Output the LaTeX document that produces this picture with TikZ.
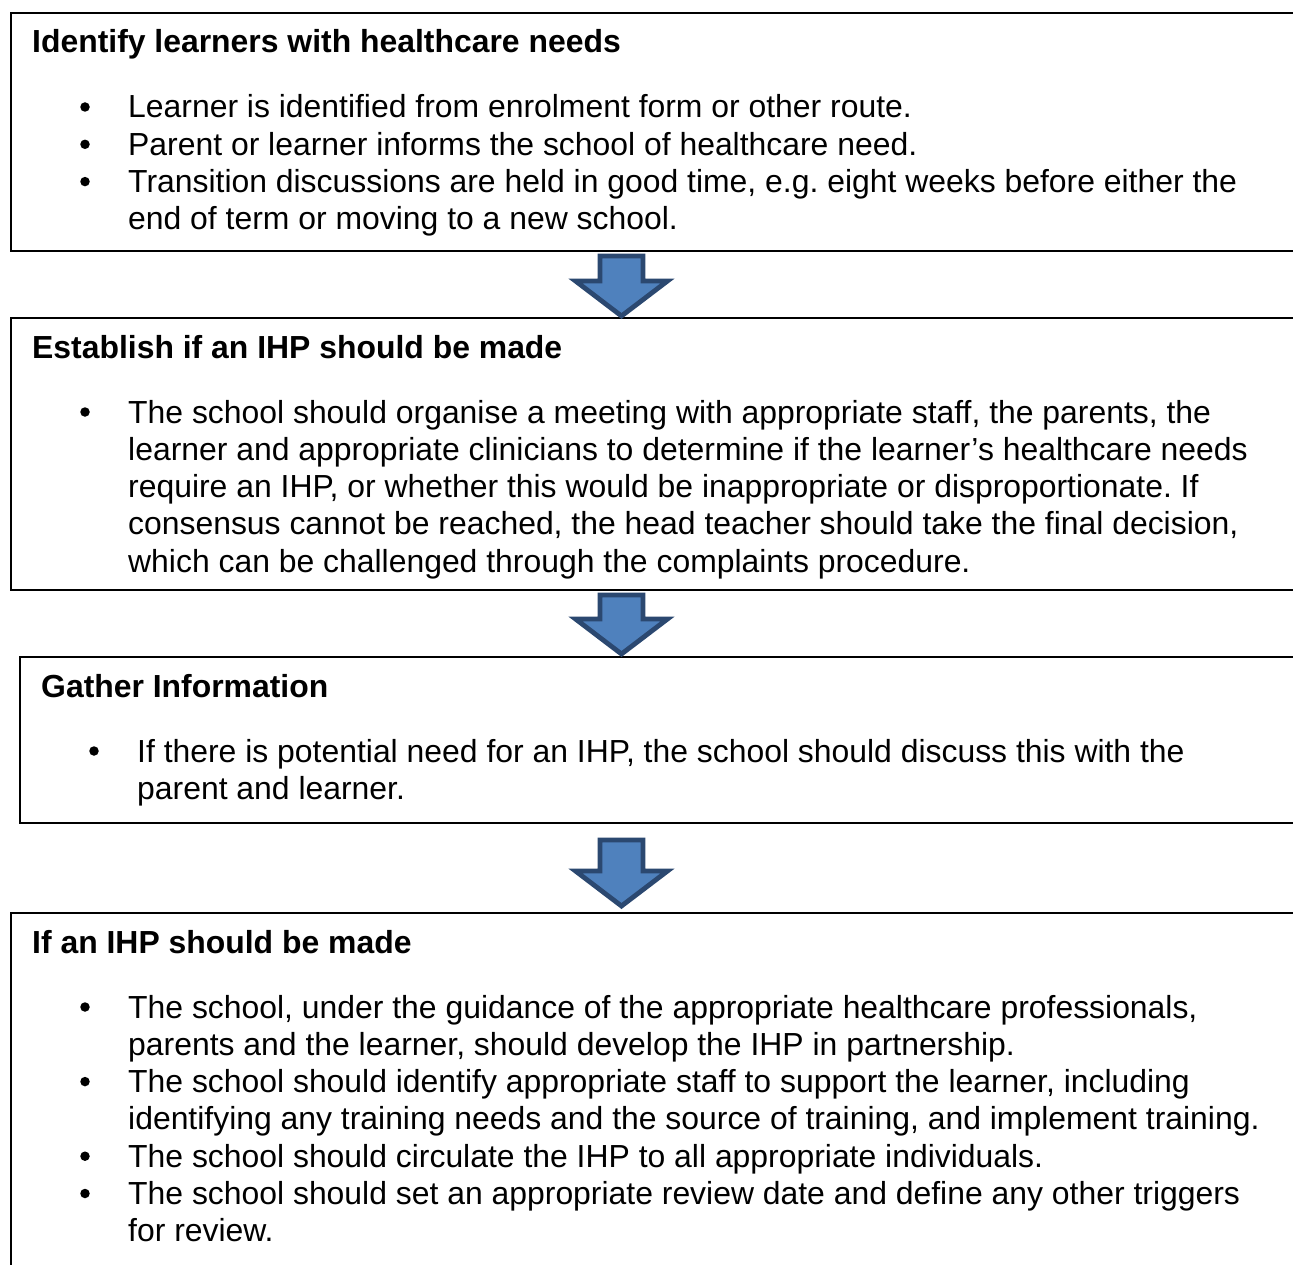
\documentclass[tikz,border=0pt]{standalone}
\usepackage{fontspec}
\setmainfont{Liberation Sans}
\frenchspacing
\usetikzlibrary{calc}
\definecolor{arrowfill}{HTML}{4F81BD}
\definecolor{arrowline}{HTML}{2B4870}
\tikzset{
  box/.style={draw=black, line width=2pt, anchor=north west, inner sep=0pt, minimum width=1290pt},
  head/.style={anchor=base west, inner sep=0pt, font=\fontsize{31.9}{37.3}\selectfont\bfseries},
  txt/.style={anchor=base west, inner sep=0pt, font=\fontsize{31.9}{37.3}\selectfont},
  bul/.style={circle, fill=black, inner sep=0pt, minimum size=9.5pt, yshift=11pt},
  barrow/.style={fill=arrowfill, draw=arrowline, line width=4.8pt, line join=miter}
}
\begin{document}
\begin{tikzpicture}[x=1pt, y=-1pt]
\fill[white] (0,0) rectangle (1293,1265);
\clip (0,0) rectangle (1293,1265);

% boxes
\node[box, minimum height=238pt] (b1) at (10,12) {};
\node[box, minimum height=272pt] (b2) at (10,317) {};
\node[box, minimum height=166pt] (b3) at (19,656) {};
\node[box, minimum height=380pt] (b4) at (10,912) {};

% box 1
\node[head] (h1) at (32,53) {Identify learners with healthcare needs};
\node[bul] (b1u1) at (85,118) {};
\node[txt] (b1l1) at (128,118) {Learner is identified from enrolment form or other route.};
\node[bul] (b1u2) at (85,155.3) {};
\node[txt] (b1l2) at (128,155.3) {Parent or learner informs the school of healthcare need.};
\node[bul] (b1u3) at (85,192.6) {};
\node[txt] (b1l3) at (128,192.6) {Transition discussions are held in good time, e.g. eight weeks before either the};
\node[txt] (b1l4) at (128,229.9) {end of term or moving to a new school.};

% box 2
\node[head] (h2) at (32,358) {Establish if an IHP should be made};
\node[bul] (b2u1) at (85,423) {};
\node[txt] (b2l1) at (128,423) {The school should organise a meeting with appropriate staff, the parents, the};
\node[txt] (b2l2) at (128,460.3) {learner and appropriate clinicians to determine if the learner’s healthcare needs};
\node[txt] (b2l3) at (128,497.6) {require an IHP, or whether this would be inappropriate or disproportionate. If};
\node[txt] (b2l4) at (128,534.9) {consensus cannot be reached, the head teacher should take the final decision,};
\node[txt] (b2l5) at (128,572.2) {which can be challenged through the complaints procedure.};

% box 3
\node[head] (h3) at (41,697) {Gather Information};
\node[bul] (b3u1) at (94,762) {};
\node[txt] (b3l1) at (137,762) {If there is potential need for an IHP, the school should discuss this with the};
\node[txt] (b3l2) at (137,799.3) {parent and learner.};

% box 4
\node[head] (h4) at (32,953) {If an IHP should be made};
\node[bul] (b4u1) at (85,1018) {};
\node[txt] (b4l1) at (128,1018) {The school, under the guidance of the appropriate healthcare professionals,};
\node[txt] (b4l2) at (128,1055.3) {parents and the learner, should develop the IHP in partnership.};
\node[bul] (b4u2) at (85,1092.6) {};
\node[txt] (b4l3) at (128,1092.6) {The school should identify appropriate staff to support the learner, including};
\node[txt] (b4l4) at (128,1129.9) {identifying any training needs and the source of training, and implement training.};
\node[bul] (b4u3) at (85,1167.2) {};
\node[txt] (b4l5) at (128,1167.2) {The school should circulate the IHP to all appropriate individuals.};
\node[bul] (b4u4) at (85,1204.5) {};
\node[txt] (b4l6) at (128,1204.5) {The school should set an appropriate review date and define any other triggers};
\node[txt] (b4l7) at (128,1241.8) {for review.};

% arrows
\coordinate (ax) at (621.5,0);
\coordinate (t1) at ($(ax |- b1.south)+(0,4)$);
\coordinate (p1) at ($(ax |- b2.north)+(0,-1)$);
\coordinate (t2) at ($(ax |- b2.south)+(0,4)$);
\coordinate (p2) at ($(ax |- b3.north)+(0,-2)$);
\coordinate (t3) at ($(ax |- b3.south)+(0,16)$);
\coordinate (p3) at ($(ax |- b4.north)+(0,-6)$);
\foreach \t/\p in {t1/p1, t2/p2, t3/p3}{
  \draw[barrow] ($(\t)+(-21.5,0)$) -- ($(\p)+(-21.5,-35)$) -- ($(\p)+(-46,-35)$) -- (\p)
     -- ($(\p)+(46,-35)$) -- ($(\p)+(21.5,-35)$) -- ($(\t)+(21.5,0)$) -- cycle;
}
\end{tikzpicture}
\end{document}
